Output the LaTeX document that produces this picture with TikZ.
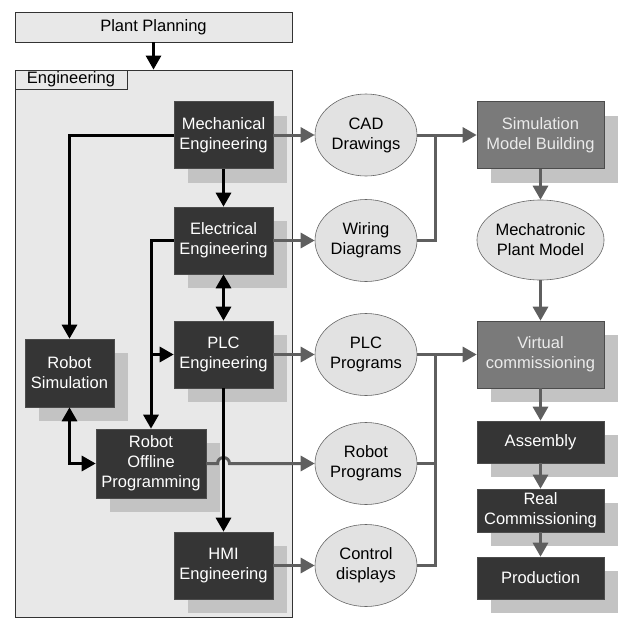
\documentclass[tikz,border=0pt]{standalone}
\usepackage{fontspec}
\setmainfont{Liberation Sans}
\usetikzlibrary{arrows.meta,shapes.geometric,shadows}
\definecolor{boxdark}{HTML}{353535}
\definecolor{boxmid}{HTML}{7A7A7A}
\definecolor{shade}{HTML}{C3C3C3}
\definecolor{panel}{HTML}{E8E8E8}
\definecolor{ovalfill}{HTML}{E2E2E2}
\definecolor{flow}{HTML}{5F5F5F}

\begin{document}
\begin{tikzpicture}[x=1pt, y=-1pt,
  font=\fontsize{16.5}{20}\selectfont,
  box/.style={draw=black!70, line width=0.6pt, align=center, inner sep=2pt, minimum width=99pt, minimum height=67pt,
    general shadow={fill=shade, shadow xshift=14pt, shadow yshift=-14pt}},
  darkbox/.style={box, fill=boxdark, text=white},
  midbox/.style={box, fill=boxmid, text=black!8, minimum width=127pt},
  fab/.style={darkbox, minimum width=127pt, minimum height=42pt},
  oval/.style={ellipse, draw=black!60, line width=0.6pt, fill=ovalfill, align=center, inner sep=0pt, minimum width=102pt, minimum height=82pt},
  blk/.style={line width=3pt, -{Triangle[length=14pt,width=15pt]}},
  dbl/.style={line width=3pt, {Triangle[length=14pt,width=15pt]}-{Triangle[length=14pt,width=15pt]}},
  gr/.style={blk, draw=flow, color=flow},
  gl/.style={line width=3pt, draw=flow}
]
\useasboundingbox (0,0) rectangle (619,619);
\node[draw=black!80, fill=panel, line width=0.8pt, minimum width=277pt, minimum height=547pt] (engineering) at (153.5,343.5) {};
\node[draw=black!80, fill=panel, line width=0.8pt, minimum width=277pt, minimum height=30pt] (plan) at (153.5,27) {Plant Planning};
\node[draw=black!80, fill=panel, line width=0.8pt, minimum width=112pt, minimum height=19pt, inner sep=0pt] (tab) at (71,79.5) {Engineering};

\node[darkbox] (mech) at (223.5,135) {Mechanical\\Engineering};
\node[darkbox] (elec) at (223.5,240.5) {Electrical\\Engineering};
\node[darkbox] (plc) at (223.5,354.5) {PLC\\Engineering};
\node[darkbox] (hmi) at (223.5,565.5) {HMI\\Engineering};
\node[darkbox, minimum width=89pt, minimum height=68pt] (rsim) at (69.5,373) {Robot\\Simulation};
\node[darkbox, minimum width=110pt, minimum height=69pt] (rop) at (151,463.5) {Robot\\Offline\\Programming};

\node[oval] (cad) at (366,135) {CAD\\Drawings};
\node[oval] (wir) at (366,240.5) {Wiring\\Diagrams};
\node[oval] (plcp) at (366,354.5) {PLC\\Programs};
\node[oval] (robp) at (366,463.5) {Robot\\Programs};
\node[oval] (ctrl) at (366,565.5) {Control\\displays};
\node[oval, minimum width=124pt, minimum height=80pt] (mpm) at (540.5,240) {Mechatronic\\Plant Model};

\node[midbox] (smb) at (540.5,135) {Simulation\\Model Building};
\node[midbox] (vc) at (540.5,354.5) {Virtual\\commissioning};
\node[fab] (asm) at (540.5,442) {Assembly};
\node[fab, minimum height=43pt] (rc) at (540.5,510.5) {Real\\Commissioning};
\node[fab] (prod) at (540.5,578) {Production};

\coordinate (j1) at (435,135);
\coordinate (j2) at (435,354.5);

\draw[blk] (plan) -- (engineering);
\draw[blk] (mech) -- (elec);
\draw[dbl] (elec) -- (plc);
\draw[blk] (mech.west) -| (rsim.north);
\draw[blk] (elec.west) -| (rop.north);
\draw[blk] (rop.north |- plc.west) -- (plc.west);
\draw[dbl] (rsim.south) |- (rop.west);

\foreach \a/\b in {mech/cad, elec/wir, plc/plcp, hmi/ctrl} \draw[gr] (\a) -- (\b);
\draw[gr] (rop.east) -- ([xshift=-6pt]plc.south |- rop.east) arc[start angle=180, end angle=360, radius=6] -- (robp.west);
\draw[blk] (plc) -- (hmi);

\draw[gr] (cad) -- (smb);
\draw[gl] (wir.east) -| (j1);
\draw[gr] (plcp) -- (vc);
\draw[gl] (robp.east) -| (j2);
\draw[gl] (ctrl.east) -| (j2);
\foreach \a/\b in {smb/mpm, mpm/vc, vc/asm, asm/rc, rc/prod} \draw[gr] (\a) -- (\b);
\end{tikzpicture}
\end{document}
